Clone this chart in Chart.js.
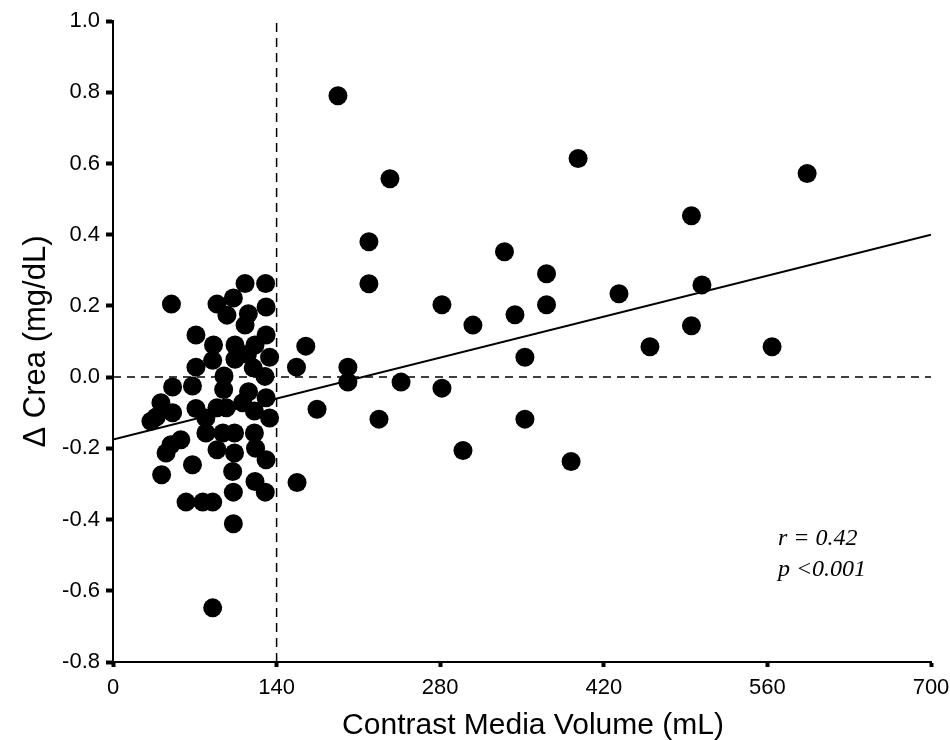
<!DOCTYPE html>
<html>
<head>
<meta charset="utf-8">
<script src="https://cdn.jsdelivr.net/npm/chart.js@4"></script>
<style>
html,body{margin:0;padding:0;background:#fff;}
#wrap{width:950px;height:740px;position:relative;}
</style>
</head>
<body>
<div id="wrap"><canvas id="c" width="950" height="740"></canvas></div>
<script>
// Contrast media volume (mL) for each patient
const volumeValues = [
  50,113,130.6,103,89,131,97.5,115.8,113,71,131,86,104.4,121.5,85.3,104.4,115,134,71,120,95,130,
  51,68,94.7,116,131,41,71,89,97,111,121,134,51,32.5,37,79.5,79.5,94,104,121,58,49.6,45.4,89,104,122,
  131,68,102.4,41.6,121.5,130.3,103,62.5,76.8,85.3,103,85.3,
  192.5,237,398,594,495,219,335,371,219,433,504,281.5,371,308,344,495,459.5,564,165,157,201,201,
  352.5,246.5,281.5,174.6,227.6,352.5,299.5,392,157.5
];
// Delta creatinine (mg/dL) for each patient
const deltaCreaValues = [
  0.205,0.263,0.263,0.222,0.205,0.197,0.174,0.178,0.146,0.118,0.118,0.09,0.09,0.09,0.047,0.05,0.064,0.056,0.028,0.026,0.003,0.002,
  -0.028,-0.025,-0.035,-0.041,-0.058,-0.072,-0.088,-0.086,-0.086,-0.072,-0.095,-0.115,-0.1,-0.124,-0.112,-0.115,-0.157,-0.157,-0.157,-0.157,-0.176,-0.19,-0.213,-0.204,-0.213,-0.2,
  -0.232,-0.246,-0.265,-0.274,-0.293,-0.323,-0.323,-0.351,-0.351,-0.351,-0.412,-0.648,
  0.79,0.557,0.614,0.572,0.453,0.38,0.352,0.29,0.262,0.234,0.259,0.203,0.203,0.146,0.175,0.144,0.085,0.085,0.087,0.028,0.028,-0.014,
  0.056,-0.014,-0.031,-0.09,-0.118,-0.118,-0.206,-0.237,-0.296
];
// Regression line end points
const regressionX = [0, 700];
const regressionY = [-0.175, 0.40];
// Reference lines
const cutoffVolume = 140;
const zeroChange = 0;
// Axis ticks
const xTicks = [0, 140, 280, 420, 560, 700];
const yTicks = [-0.8, -0.6, -0.4, -0.2, 0.0, 0.2, 0.4, 0.6, 0.8, 1.0];
const xTitle = 'Contrast Media Volume (mL)';
const yTitle = 'Δ Crea (mg/dL)';
const statsText = ["r = 0.42", "p <0.001"];

const points = volumeValues.map((v, i) => ({x: v, y: deltaCreaValues[i]}));
const SANS = '"Liberation Sans", Arial, sans-serif';

const annot = {
  id: 'annot',
  afterDraw(chart) {
    const {ctx, scales, chartArea} = chart;
    ctx.save();
    ctx.fillStyle = '#000';
    // statistics
    ctx.font = 'italic 24px "Liberation Serif", "Times New Roman", serif';
    ctx.textAlign = 'left';
    ctx.textBaseline = 'middle';
    const x0 = scales.x.getPixelForValue(569);
    ctx.fillText(statsText[0], x0, scales.y.getPixelForValue(-0.454));
    ctx.fillText(statsText[1], x0, scales.y.getPixelForValue(-0.541));
    // axis titles
    ctx.textAlign = 'center';
    ctx.textBaseline = 'alphabetic';
    ctx.font = '30px ' + SANS;
    ctx.fillText(xTitle, 533, 734);
    ctx.font = '31px ' + SANS;
    ctx.translate(45, (chartArea.top + chartArea.bottom) / 2);
    ctx.rotate(-Math.PI / 2);
    ctx.fillText(yTitle, 0, 0);
    ctx.restore();
  }
};

new Chart(document.getElementById('c'), {
  type: 'scatter',
  data: {
    datasets: [
      {
        type: 'line',
        data: [{x: 0, y: zeroChange}, {x: 700, y: zeroChange}],
        borderColor: '#000', borderWidth: 1.5, borderDash: [8, 6],
        pointRadius: 0, fill: false, order: 3
      },
      {
        type: 'line',
        data: [{x: cutoffVolume, y: -0.8}, {x: cutoffVolume, y: 1.0}],
        borderColor: '#000', borderWidth: 1.5, borderDash: [9, 6],
        pointRadius: 0, fill: false, order: 3
      },
      {
        type: 'line',
        data: regressionX.map((x, i) => ({x: x, y: regressionY[i]})),
        borderColor: '#000', borderWidth: 2,
        pointRadius: 0, fill: false, order: 2
      },
      {
        data: points,
        backgroundColor: '#000', borderColor: '#000',
        pointRadius: 9.5, pointHoverRadius: 9.5, borderWidth: 0, order: 1
      }
    ]
  },
  options: {
    responsive: false,
    animation: false,
    events: [],
    layout: {padding: {left: 0, right: 19, top: 21, bottom: 0}},
    plugins: {legend: {display: false}, tooltip: {enabled: false}},
    scales: {
      x: {
        type: 'linear', min: 0, max: 700,
        afterBuildTicks: (s) => { s.ticks = xTicks.map(v => ({value: v})); },
        afterFit: (s) => { s.height = 78; s.paddingLeft = 0; s.paddingRight = 0; },
        border: {display: true, color: '#000', width: 2},
        grid: {display: true, drawOnChartArea: false, drawTicks: true, tickLength: 5, tickWidth: 4, color: '#000'},
        ticks: {color: '#000', padding: 8, font: {family: SANS, size: 22}},
        title: {display: false}
      },
      y: {
        type: 'linear', min: -0.8, max: 1.0,
        afterBuildTicks: (s) => { s.ticks = yTicks.map(v => ({value: v})); },
        afterFit: (s) => { s.width = 113; s.paddingTop = 0; s.paddingBottom = 0; },
        border: {display: true, color: '#000', width: 2},
        grid: {display: true, drawOnChartArea: false, drawTicks: true, tickLength: 7, tickWidth: 4, color: '#000'},
        ticks: {color: '#000', padding: 6, callback: (v) => v.toFixed(1),
                font: {family: SANS, size: 22}},
        title: {display: false}
      }
    }
  },
  plugins: [annot]
});
</script>
</body>
</html>
